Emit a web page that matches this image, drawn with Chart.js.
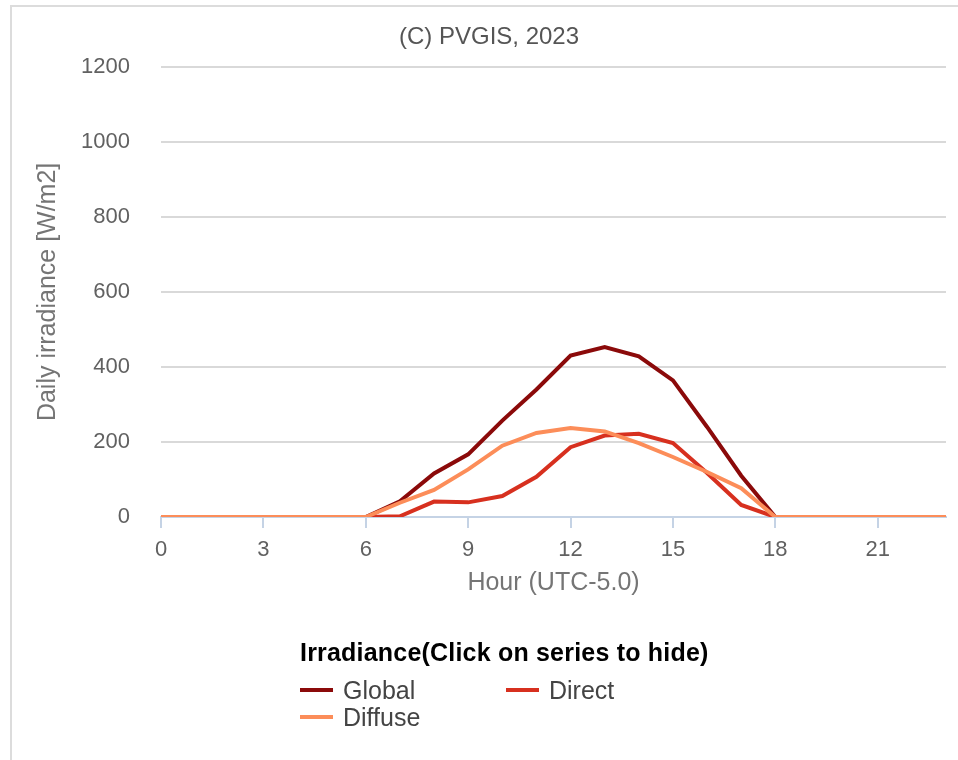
<!DOCTYPE html>
<html>
<head>
<meta charset="utf-8">
<script src="https://cdn.jsdelivr.net/npm/chart.js@4"></script>
<style>
  html, body { margin: 0; padding: 0; background: #fff; }
  body { width: 958px; height: 760px; position: relative; overflow: hidden; font-family: "Liberation Sans", Arial, sans-serif; }
  #frame { position: absolute; left: 10px; top: 5px; width: 960px; height: 770px; border-left: 2px solid #dcdcdc; border-top: 2px solid #dcdcdc; }
  #wrap { position: absolute; left: 0; top: 0; width: 958px; height: 617px; }
  #legend { position: absolute; left: 0; top: 0; width: 958px; height: 760px; pointer-events: none; }
  .ltitle { position: absolute; left: 300px; top: 637px; font-weight: bold; font-size: 25px; line-height: 30px; color: #000; white-space: nowrap; letter-spacing: 0.2px; }
  .item { position: absolute; font-size: 25px; line-height: 30px; color: #444; white-space: nowrap; }
  .sw { position: absolute; width: 33px; height: 4px; }
</style>
</head>
<body>
<div id="frame"></div>
<div id="wrap"><canvas id="c" width="958" height="617"></canvas></div>
<div id="legend"></div>
<script>
const hours = [0,1,2,3,4,5,6,7,8,9,10,11,12,13,14,15,16,17,18,19,20,21,22,23];
const globalIrr  = [0,0,0,0,0,0,0,42,116,167,257,340,430,453,428,364,240,110,0,0,0,0,0,0];
const directIrr  = [0,0,0,0,0,0,0,2,41,39,56,107,186,217,222,197,117,32,0,0,0,0,0,0];
const diffuseIrr = [0,0,0,0,0,0,0,38,72,127,190,224,237,228,197,160,120,77,0,0,0,0,0,0];
const xTicks = [0,3,6,9,12,15,18,21];
const yTicks = [0,200,400,600,800,1000,1200];
const seriesNames = ["Global","Direct","Diffuse"];
const seriesColors = ["#8b0a0a","#d7301f","#fc8d59"];
const titleText = "(C) PVGIS, 2023";
const xTitle = "Hour (UTC-5.0)";
const yTitle = "Daily irradiance [W/m2]";
const legendTitle = "Irradiance(Click on series to hide)";

const FONT = '"Liberation Sans", Arial, sans-serif';
const toPts = arr => arr.map((v,i)=>({x: hours[i], y: v}));
const seriesData = [globalIrr, directIrr, diffuseIrr];

const datasets = seriesNames.map((n,i)=>({
  label: n,
  data: toPts(seriesData[i]),
  borderColor: seriesColors[i],
  backgroundColor: seriesColors[i],
  borderWidth: 4,
  pointRadius: 0,
  pointHoverRadius: 0,
  tension: 0,
  fill: false,
  order: 3 - i
}));

new Chart(document.getElementById('c'), {
  type: 'line',
  data: { datasets },
  options: {
    responsive: false,
    animation: false,
    layout: { padding: { left: 32, right: 12, top: 0, bottom: 0 } },
    plugins: {
      legend: { display: false },
      tooltip: { enabled: false },
      title: {
        display: true, text: titleText, color: '#555',
        font: { family: FONT, size: 24, weight: 'normal' },
        padding: { top: 23, bottom: 15 }
      }
    },
    scales: {
      x: {
        type: 'linear', min: 0, max: 23,
        afterBuildTicks: s => { s.ticks = xTicks.map(v=>({value:v})); },
        afterFit: s => { s.height = 100; },
        ticks: { color: '#616161', font: { family: FONT, size: 22 }, padding: 9, maxRotation: 0, autoSkip: false, callback: v => String(v) },
        grid: { drawOnChartArea: false, drawTicks: true, tickLength: 11, color: '#c5d3e5', lineWidth: 2 },
        border: { display: true, color: '#c5d3e5', width: 2 },
        title: { display: true, text: xTitle, color: '#757575', font: { family: FONT, size: 25 }, padding: { top: 0, bottom: 19 } }
      },
      y: {
        type: 'linear', min: 0, max: 1200,
        afterBuildTicks: s => { s.ticks = yTicks.map(v=>({value:v})); },
        afterFit: s => { s.width = 129; },
        ticks: { color: '#616161', font: { family: FONT, size: 22 }, padding: 31, callback: v => String(v) },
        grid: { drawTicks: false, color: ctx => ctx.tick && ctx.tick.value === 0 ? 'rgba(0,0,0,0)' : '#d9d9d9', lineWidth: 2 },
        border: { display: false },
        title: { display: true, text: yTitle, color: '#757575', font: { family: FONT, size: 25 }, padding: { top: 1, bottom: 0 } }
      }
    }
  }
});

// HTML legend (layout like the reference)
const lg = document.getElementById('legend');
const t = document.createElement('div'); t.className = 'ltitle'; t.textContent = legendTitle; lg.appendChild(t);
const pos = [[300, 690], [506, 690], [300, 717]];
seriesNames.forEach((n,i)=>{
  const sw = document.createElement('div'); sw.className = 'sw';
  sw.style.left = pos[i][0] + 'px'; sw.style.top = (pos[i][1]-2) + 'px'; sw.style.background = seriesColors[i];
  lg.appendChild(sw);
  const it = document.createElement('div'); it.className = 'item';
  it.style.left = (pos[i][0] + 43) + 'px'; it.style.top = (pos[i][1] - 15) + 'px'; it.textContent = n;
  lg.appendChild(it);
});
</script>
</body>
</html>
